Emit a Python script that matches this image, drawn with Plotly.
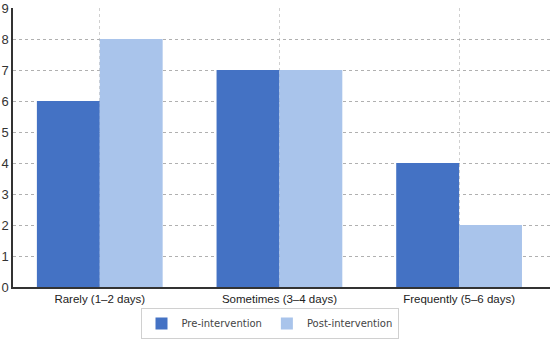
import plotly.graph_objects as go

categories = ["Rarely (1–2 days)", "Sometimes (3–4 days)", "Frequently (5–6 days)"]
pre_values = [6, 7, 4]
post_values = [8, 7, 2]
y_ticks = [0, 1, 2, 3, 4, 5, 6, 7, 8, 9]

fig = go.Figure()
fig.add_trace(go.Bar(x=categories, y=pre_values, name="Pre-intervention",
                     marker=dict(color="#4472C4", line=dict(width=0))))
fig.add_trace(go.Bar(x=categories, y=post_values, name="Post-intervention",
                     marker=dict(color="#A9C4EB", line=dict(width=0))))

fig.update_layout(
    width=550, height=341,
    margin=dict(l=13, r=0, t=8, b=54, autoexpand=False),
    plot_bgcolor="white", paper_bgcolor="white",
    barmode="group", bargap=0.3, bargroupgap=0,
    font=dict(family="Liberation Sans, Arial, sans-serif", size=12, color="#222"),
    showlegend=True,
    legend=dict(orientation="h", x=0.49, xanchor="center", xref="container",
                y=0.006, yanchor="bottom", yref="container",
                bordercolor="#d0d0d0", borderwidth=1,
                font=dict(family="DejaVu Sans, sans-serif", size=10, color="#444"),
                itemwidth=30, tracegroupgap=0),
    xaxis=dict(range=[-0.483, 2.506], showgrid=True, gridcolor="#d0d0d0", griddash="dot",
               gridwidth=1, showline=True, linecolor="#333", linewidth=1.5,
               ticks="", tickfont=dict(size=11.5), zeroline=False, automargin=False),
    yaxis=dict(range=[0, 9], tickvals=y_ticks, showgrid=True, gridcolor="#b0b0b0",
               griddash="dot", gridwidth=1, showline=True, linecolor="#333", linewidth=1.5,
               ticks="", tickfont=dict(size=13, color="#333"), zeroline=False,
               automargin=False, ticklabelstandoff=0),
)

fig.write_html("out.html", config={"displayModeBar": False},
               post_script="document.body.style.margin='0';")
